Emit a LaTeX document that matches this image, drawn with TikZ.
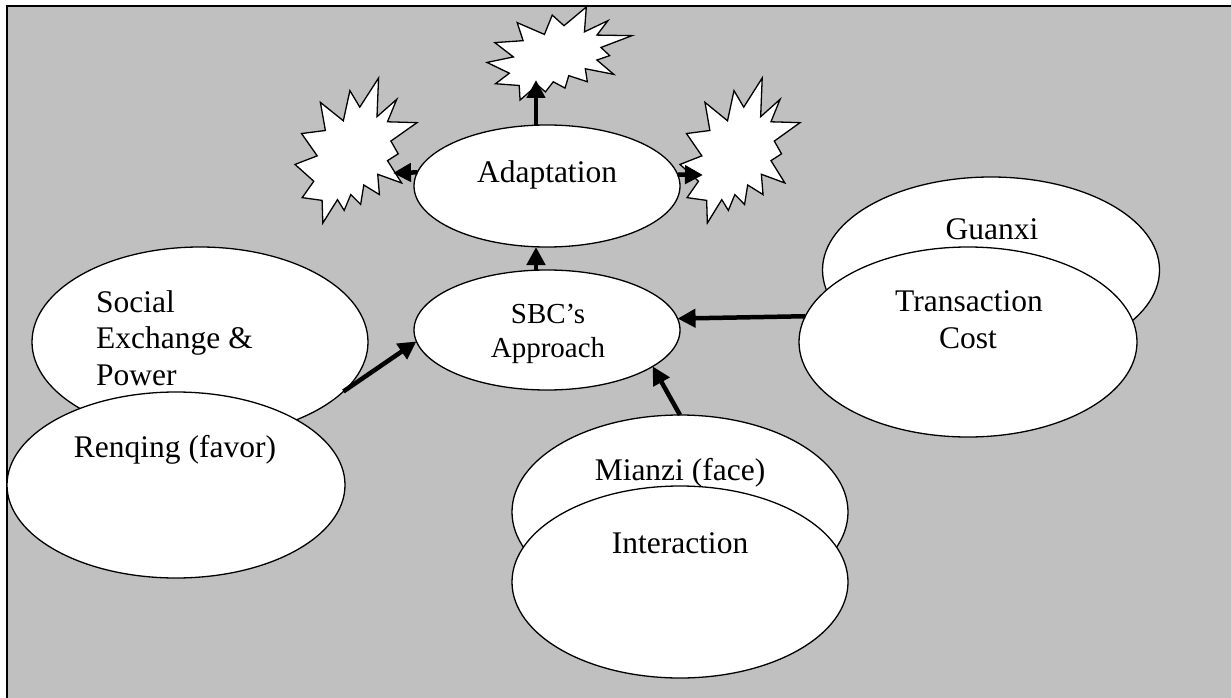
\documentclass[tikz,border=0pt]{standalone}
\usepackage{fontspec}
\setmainfont{Liberation Serif}
\usetikzlibrary{arrows.meta,shapes.geometric}
\definecolor{panel}{HTML}{C0C0C0}
\begin{document}
\begin{tikzpicture}[x=1pt,y=-1pt,
  oval/.style={ellipse, draw=black, line width=1.3pt, fill=white, inner sep=0pt, outer sep=0pt},
  lbl/.style={anchor=base, inner sep=0pt, font=\fontsize{31.5}{36}\selectfont},
  lblsmall/.style={anchor=base, inner sep=0pt, font=\fontsize{29}{33}\selectfont},
  arr/.style={line width=4.5pt, -{Triangle[length=18pt,width=18pt]}},
  % explosion outline in a unit box, y pointing down
  burst/.pic={
    \draw[line width=1.3pt, fill=white, miter limit=25]
      (0.531,0.201) -- (0.685,0) -- (0.672,0.267) -- (0.834,0.147) --
      (0.758,0.302) -- (1,0.308) -- (0.786,0.435) -- (0.846,0.523) --
      (0.758,0.570) -- (0.874,0.724) -- (0.678,0.664) -- (0.692,0.804) --
      (0.564,0.738) -- (0.538,0.872) -- (0.457,0.804) -- (0.403,0.913) --
      (0.348,0.839) -- (0.228,1) -- (0.222,0.844) -- (0.059,0.825) --
      (0.154,0.712) -- (0,0.596) -- (0.182,0.537) -- (0.054,0.383) --
      (0.249,0.362) -- (0.208,0.168) -- (0.396,0.295) -- (0.450,0.087) -- cycle;
  }
]
\useasboundingbox (0,0) rectangle (1231,698);

% grey panel with its top and left rule
\fill[panel] (7,6) rectangle (1231,698);
\draw[line width=1.5pt] (7,698) -- (7,6) -- (1231,6);

% left pair
\node[oval, minimum width=336pt, minimum height=190pt] (soc) at (200,342) {};
\node[lbl, anchor=base west] (soc1) at (96,312) {Social};
\node[lbl, anchor=base west] (soc2) at (96,348) {Exchange \&};
\node[lbl, anchor=base west] (soc3) at (96,385) {Power};
\node[oval, minimum width=338pt, minimum height=186pt] (ren) at (176,485) {};
\node[lbl] (rent) at (175,457) {Renqing (favor)};

% right pair
\node[oval, minimum width=337pt, minimum height=186pt] (gx) at (991,270) {};
\node[lbl] (gxt) at (992,239) {Guanxi};
\node[oval, minimum width=338pt, minimum height=190pt] (tc) at (968,342) {};
\node[lbl] (tc1) at (969,311) {Transaction};
\node[lbl] (tc2) at (968,348) {Cost};

% bottom pair
\node[oval, minimum width=336pt, minimum height=194pt] (mz) at (680,512) {};
\node[lbl] (mzt) at (680,480) {Mianzi (face)};
\node[oval, minimum width=336pt, minimum height=192pt] (ia) at (680,582) {};
\node[lbl] (iat) at (680,553) {Interaction};

% centre column
\node[oval, minimum width=266pt, minimum height=122pt] (ada) at (547,186) {};
\node[lbl] (adat) at (547,182) {Adaptation};
\node[oval, minimum width=266pt, minimum height=120pt] (sbc) at (547,330) {};
\node[lblsmall] (sbc1) at (548,323) {SBC’s};
\node[lblsmall] (sbc2) at (548,357) {Approach};

% bursts round Adaptation
\pic[xscale=145, yscale=93] at (487,7) {burst};
\pic[xscale=122, yscale=145] at (295,78) {burst};
\pic[xscale=120, yscale=145] at (680,78) {burst};

% arrow tips inside the bursts
\coordinate (topTip) at (536,80);
\coordinate (leftTip) at (393,173);
\coordinate (rightTip) at (703,175);

% connectors
\draw[arr] (topTip |- ada.north) -- (topTip);
\draw[arr] (ada.174) -- (leftTip);
\draw[arr] (ada.5) -- (rightTip);
\draw[arr] (topTip |- sbc.north) -- (topTip |- ada.south);
\draw[arr] (tc.171.6) -- (sbc.5.3);
\draw[arr] (soc.-19.3) -- (sbc.185.6);
\draw[arr] (mz.north) -- (sbc.-19);
\end{tikzpicture}
\end{document}
